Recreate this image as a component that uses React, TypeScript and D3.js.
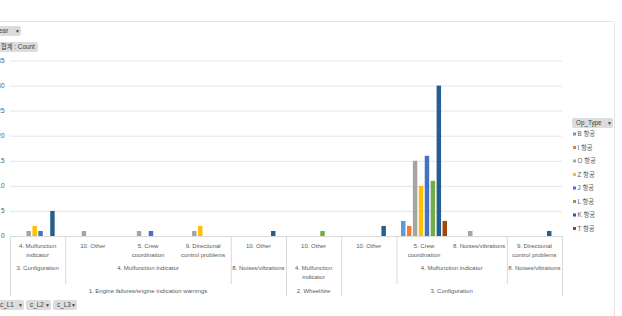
import React from "react";
import * as d3 from "d3";

const level1 = [
  "4. Mulfunction|indicator",
  "10. Other",
  "5. Crew|coordination",
  "9. Directional|control problems",
  "10. Other",
  "10. Other",
  "10. Other",
  "5. Crew|coordination",
  "8. Noises/vibrations",
  "9. Directional|control problems",
];
const level2 = [
  "3. Configuration",
  "4. Mulfunction indicator",
  "4. Mulfunction indicator",
  "4. Mulfunction indicator",
  "8. Noises/vibrations",
  "4. Mulfunction|indicator",
  "",
  "4. Mulfunction indicator",
  "4. Mulfunction indicator",
  "8. Noises/vibrations",
];
const level3 = [
  "1. Engine failures/engine indication warnings",
  "1. Engine failures/engine indication warnings",
  "1. Engine failures/engine indication warnings",
  "1. Engine failures/engine indication warnings",
  "1. Engine failures/engine indication warnings",
  "2. Wheel/tire",
  "3. Configuration",
  "3. Configuration",
  "3. Configuration",
  "3. Configuration",
];

const seriesNames = ["B 항공", "I 항공", "O 항공", "Z 항공", "J 항공", "L 항공", "K 항공", "T 항공"];
const seriesColors = ["#5B9BD5", "#ED7D31", "#A5A5A5", "#FFC000", "#4472C4", "#70AD47", "#255E91", "#9E480E"];

const valsB = [0, 0, 0, 0, 0, 0, 0, 3, 0, 0];
const valsI = [0, 0, 0, 0, 0, 0, 0, 2, 0, 0];
const valsO = [1, 1, 1, 1, 0, 0, 0, 15, 1, 0];
const valsZ = [2, 0, 0, 2, 0, 0, 0, 10, 0, 0];
const valsJ = [1, 0, 1, 0, 0, 0, 0, 16, 0, 0];
const valsL = [0, 0, 0, 0, 0, 1, 0, 11, 0, 0];
const valsK = [5, 0, 0, 0, 1, 0, 2, 30, 0, 1];
const valsT = [0, 0, 0, 0, 0, 0, 0, 3, 0, 0];
const seriesValues = [valsB, valsI, valsO, valsZ, valsJ, valsL, valsK, valsT];

const yTicks = [0, 5, 10, 15, 20, 25, 30, 35];

const W = 622;
const H = 316;
const TXT = "#595959";
const LINE = "#d9d9d9";
const FONT = "'Liberation Sans', 'Noto Sans CJK KR', sans-serif";

type Group = { label: string; start: number; end: number; skip: number[] };

function groupsOf(arr: string[]): Group[] {
  const out: Group[] = [];
  arr.forEach((lab, i) => {
    const last = out[out.length - 1];
    if (last && (last.label === lab || lab === "" || last.label === "")) {
      if (last.label === "") last.label = lab;
      last.end = i;
      if (lab === "") last.skip.push(i);
    } else {
      out.push({ label: lab, start: i, end: i, skip: lab === "" ? [i] : [] });
    }
  });
  return out;
}

function MultiText({ x, y, text, lh }: { x: number; y: number; text: string; lh: number }) {
  const lines = text.split("|");
  return (
    <text x={x} y={y} textAnchor="middle" fontSize={6} fill={TXT} fontFamily={FONT}>
      {lines.map((l, i) => (
        <tspan key={i} x={x} dy={i === 0 ? 0 : lh}>
          {l}
        </tspan>
      ))}
    </text>
  );
}

function Button({ x, y, w, label, tx }: { x: number; y: number; w: number; label: string; tx?: number }) {
  return (
    <g>
      <rect x={x} y={y} width={w} height={10} rx={2} fill="#dcdcdc" />
      <text x={tx !== undefined ? tx : x + 4} y={y + 7.3} fontSize={6.3} fill="#404040" fontFamily={FONT}>
        {label}
      </text>
      <text x={x + w - 6} y={y + 7} fontSize={5} fill="#404040" fontFamily={FONT}>
        ▼
      </text>
    </g>
  );
}

export default function App() {
  const idx = level1.map((_, i) => i);
  const x = d3.scaleBand<number>().domain(idx).range([10, 562]).padding(0);
  const cw = x.bandwidth();
  const inner = d3
    .scaleBand<number>()
    .domain(seriesNames.map((_, i) => i))
    .range([4.6, cw - 4.6])
    .paddingInner(0.25)
    .paddingOuter(0);
  const y = d3.scaleLinear().domain([0, 35]).range([236, 60.5]);
  const x0 = 10;
  const x1 = 562;
  const baseY = y(0);

  const g2 = groupsOf(level2);
  const g3 = groupsOf(level3);

  const g2Lines: number[] = g2.map((g) => g.start);
  const g3Lines: number[] = g3.map((g) => g.start);

  return (
    <svg width={W} height={H} style={{ position: "absolute", left: 0, top: 0, background: "#fff" }}>
      <rect x={0} y={0} width={W} height={H} fill="#fff" />
      {/* chart border */}
      <line x1={0} x2={614} y1={21.5} y2={21.5} stroke="#e3e3e3" />
      <line x1={614.5} x2={614.5} y1={21.5} y2={H} stroke="#e3e3e3" />

      {/* gridlines */}
      {yTicks.map((t) => (
        <g key={t}>
          <line x1={x0} x2={x1} y1={y(t) + 0.5} y2={y(t) + 0.5} stroke={t === 0 ? LINE : "#e6e6e6"} />
          <text x={4.5} y={y(t) + 2.2} textAnchor="end" fontSize={6.5} fill={TXT} fontFamily={FONT}>
            {t}
          </text>
        </g>
      ))}

      {/* bars */}
      {seriesValues.map((vals, s) =>
        vals.map((v, c) =>
          v > 0 ? (
            <rect
              key={`${s}-${c}`}
              x={(x(c) as number) + (inner(s) as number)}
              y={y(v)}
              width={inner.bandwidth()}
              height={baseY - y(v)}
              fill={seriesColors[s]}
            />
          ) : null
        )
      )}

      {/* axis dividers */}
      <line x1={x0 + 0.5} x2={x0 + 0.5} y1={baseY} y2={296} stroke={LINE} />
      <line x1={x1 + 0.5} x2={x1 + 0.5} y1={baseY} y2={296} stroke={LINE} />
      {g2Lines
        .filter((i) => i > 0 && !g3Lines.includes(i))
        .map((i) => (
          <line key={`l2-${i}`} x1={(x(i) as number) + 0.5} x2={(x(i) as number) + 0.5} y1={baseY} y2={284} stroke={LINE} />
        ))}
      {g3Lines
        .filter((i) => i > 0)
        .map((i) => (
          <line key={`l3-${i}`} x1={(x(i) as number) + 0.5} x2={(x(i) as number) + 0.5} y1={baseY} y2={296} stroke={LINE} />
        ))}

      {/* level 1 labels */}
      {level1.map((lab, i) => (
        <MultiText key={`t1-${i}`} x={(x(i) as number) + cw / 2} y={247.5} text={lab} lh={9.3} />
      ))}
      {/* level 2 labels */}
      {g2.map((g, k) => {
        const members = d3.range(g.start, g.end + 1).filter((i) => !g.skip.includes(i));
        const a = x(members[0]) as number;
        const b = (x(members[members.length - 1]) as number) + cw;
        return <MultiText key={`t2-${k}`} x={(a + b) / 2} y={270} text={g.label} lh={9.3} />;
      })}
      {/* level 3 labels */}
      {g3.map((g, k) => {
        const a = x(g.start) as number;
        const b = (x(g.end) as number) + cw;
        return <MultiText key={`t3-${k}`} x={(a + b) / 2} y={293} text={g.label} lh={9} />;
      })}

      {/* field buttons */}
      <Button x={-8} y={26} w={29} label="Year" tx={-4.5} />
      <g>
        <rect x={-4} y={42} width={42} height={10} rx={2} fill="#dcdcdc" />
        <text x={1} y={49.3} fontSize={6.3} fill="#404040" fontFamily={FONT}>
          합계 : Count
        </text>
      </g>
      <Button x={-4} y={300} w={28} label="c_L1" />
      <Button x={26} y={300} w={25} label="c_L2" />
      <Button x={53} y={300} w={24} label="c_L3" />

      {/* legend */}
      <Button x={572} y={118} w={41} label="Op_Type" />
      {seriesNames.map((n, i) => {
        const ly = 134 + i * 13.5;
        return (
          <g key={n}>
            <rect x={573} y={ly - 1.5} width={3} height={3} fill={seriesColors[i]} />
            <text x={577.5} y={ly + 2.2} fontSize={6.3} fill={TXT} fontFamily={FONT}>
              {n}
            </text>
          </g>
        );
      })}
    </svg>
  );
}
